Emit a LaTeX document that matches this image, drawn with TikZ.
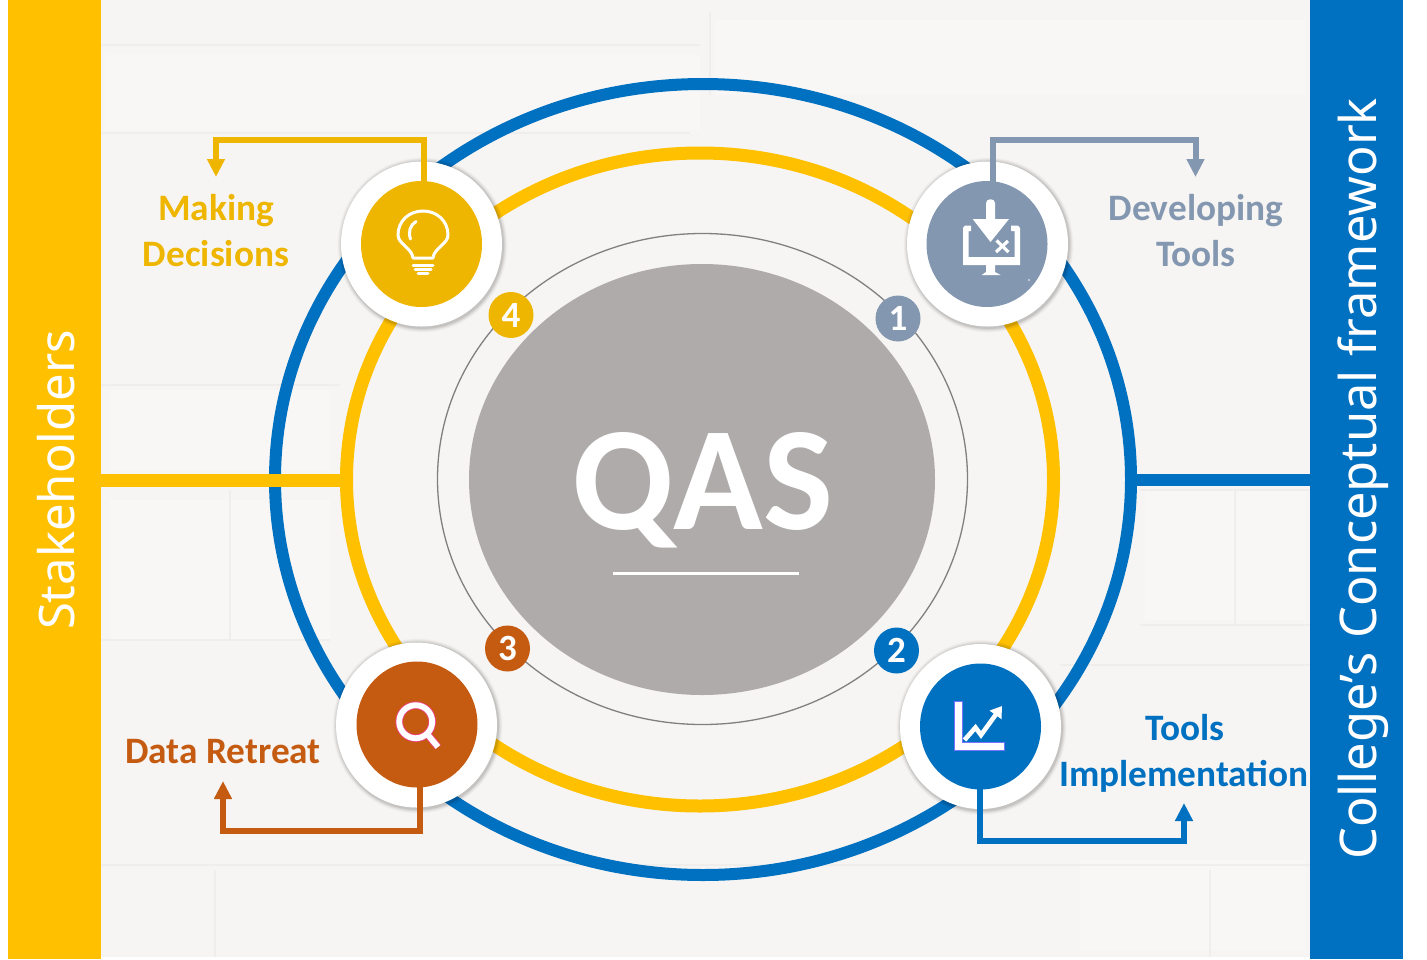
\documentclass[tikz,border=0pt]{standalone}
\usepackage{fontspec}
\setmainfont{Carlito}
\newfontfamily\barfont{Noto Sans}
\usetikzlibrary{arrows.meta,shapes.geometric}
\definecolor{cYel}{HTML}{FFC000}
\definecolor{cBlu}{HTML}{0070C0}
\definecolor{cGold}{HTML}{EEB600}
\definecolor{cSla}{HTML}{8497B0}
\definecolor{cOra}{HTML}{C55A11}
\definecolor{cGry}{HTML}{AFABAB}
\definecolor{cBg}{HTML}{F6F5F3}
\definecolor{cBrick}{HTML}{EFEEEC}
\tikzset{
  halo/.style={ellipse,minimum width=161pt,minimum height=165pt,inner sep=0pt,outer sep=0pt,fill=white},
  disc/.style={ellipse,minimum width=121pt,minimum height=126pt,inner sep=0pt,outer sep=0pt,fill=#1},
  badge/.style={ellipse,minimum width=45pt,minimum height=46pt,inner sep=0pt,outer sep=0pt,fill=#1,text=white,font=\fontsize{37}{37}\selectfont\bfseries},
  lead/.style={draw=#1,line width=6pt,miter limit=10,-{Triangle[width=17pt,length=18pt]}},
  lab/.style={text=#1,font=\fontsize{37.3}{40}\selectfont\bfseries,inner sep=0pt,anchor=center},
  bartext/.style={text=white,rotate=90,inner sep=0pt,anchor=center,font=\barfont\fontsize{#1}{#1}\selectfont},
  brick/.style={draw=cBrick,line width=1.2pt},
  ico/.style={draw=white,line width=3pt,line cap=round,line join=round}
}
\newcommand{\shadowfor}[2]{%
  \foreach \g/\o in {5/0.02,4/0.03,3/0.04,2/0.05,1/0.07}{
    \fill[black,opacity=\o] (#1+1,#2+1) ellipse ({80.5+\g*0.9} and {83+\g*0.9});
  }}
\begin{document}
\begin{tikzpicture}[x=1pt,y=-1pt]
\useasboundingbox (0,0) rectangle (1427,959);
\fill[white] (0,0) rectangle (1427,959);
% wall
\fill[cBg] (101,0) rectangle (1310,957);
\fill[white,opacity=.25] (105,55) rectangle (700,130);
\fill[white,opacity=.25] (715,20) rectangle (1305,95);
\fill[white,opacity=.25] (110,390) rectangle (330,470);
\fill[white,opacity=.25] (110,500) rectangle (330,640);
\fill[white,opacity=.25] (1145,490) rectangle (1305,620);
\fill[white,opacity=.25] (1080,860) rectangle (1305,950);
\foreach \a/\b/\c/\d in {101/45/700/45,710/12/710/95,101/133/690/133,101/385/340/385,
   101/640/330/640,1140/490/1310/490,1140/625/1310/625,1060/665/1310/665,101/865/1310/865,
   215/870/215/957,1210/870/1210/957,230/490/230/640,1235/625/1235/490}
  \draw[brick] (\a,\b) -- (\c,\d);
% side bars
\fill[cYel] (8,0) rectangle (101,959);
\fill[cBlu] (1310,0) rectangle (1403,959);
\node[bartext=49] (stake) at (56,480) {Stakeholders};
\node[bartext=50.6] (coll) at (1363,479) {College’s Conceptual framework};
% rings
\draw[cBlu,line width=12pt] (703,479.5) ellipse (428 and 395.5);
\draw[cYel,line width=13pt] (700,479.5) ellipse (353.5 and 326.5);
\coordinate (yl) at (342,480); \coordinate (yr) at (101,480);
\coordinate (bl) at (1130,480); \coordinate (br) at (1310,480);
\draw[cYel,line width=13pt] (yr) -- (yl);
\draw[cBlu,line width=12pt] (bl) -- (br);
\draw[gray,line width=1.3pt] (702.5,479) ellipse (265 and 245.5);
% centre
\node[ellipse,minimum width=466pt,minimum height=431pt,inner sep=0pt,outer sep=0pt,fill=cGry] (core) at (702,479.5) {};
\node[text=white,inner sep=0pt,font=\fontsize{148}{148}\selectfont\bfseries] (qas) at (703,490) {QAS};
\coordinate (ul) at (612.7,573.3); \coordinate (ur) at (799.3,573.3);
\draw[white,line width=3pt] (ul) -- (ur);
% stations
\shadowfor{421.5}{244}\shadowfor{987.5}{244}\shadowfor{980.5}{726.5}\shadowfor{416.5}{725}
\node[halo] (h4) at (421.5,244) {};
\node[halo] (h1) at (987.5,244) {};
\node[halo] (h2) at (980.5,726.5) {};
\node[halo] (h3) at (416.5,725) {};
\node[disc=cGold] (d4) at (421.5,244) {};
\node[disc=cSla] (d1) at (987,244) {};
\node[disc=cBlu] (d2) at (980.5,726.5) {};
\node[disc=cOra] (d3) at (417,724.5) {};
% badges
\node[badge=cSla] (b1) at (898,318.5) {1};
\node[badge=cBlu] (b2) at (896.5,650.5) {2};
\node[badge=cOra] (b3) at (507.5,648.5) {3};
\node[badge=cGold] (b4) at (511,315) {4};
% leaders
\coordinate (s4) at (424,182); \coordinate (e4) at (216,177);
\coordinate (s1) at (993,182); \coordinate (e1) at (1195.5,177);
\coordinate (s2) at (980,788); \coordinate (e2) at (1184,803);
\coordinate (s3) at (420,786); \coordinate (e3) at (223,781);
\draw[lead=cGold] (s4) |- (216,139.5) -- (e4);
\draw[lead=cSla] (s1) |- (1195.5,139.5) -- (e1);
\draw[lead=cBlu] (s2) |- (1184,840.5) -- (e2);
\draw[lead=cOra] (s3) |- (223,830.5) -- (e3);
% labels
\node[lab=cGold] (t4a) at (216,211) {Making};
\node[lab=cGold] (t4b) at (216,254) {Decisions};
\node[lab=cSla] (t1a) at (1196,211) {Developing};
\node[lab=cSla] (t1b) at (1196,254) {Tools};
\node[lab=cBlu] (t2a) at (1185,728) {Tools};
\node[lab=cBlu] (t2b) at (1184,776) {Implementation};
\node[lab=cOra] (t3) at (223,752) {Data Retreat};
% bulb icon
\draw[ico] (413,258) .. controls (412,248) and (398,244) .. (398,235) .. controls (398,221) and (409,211) .. (423,211) .. controls (437,211) and (448,221) .. (448,235) .. controls (448,244) and (434,248) .. (433,258) -- cycle;
\draw[ico] (410.5,239) .. controls (408,232) and (410,225) .. (416,221.5);
\draw[ico] (413,265) -- (433,265);
\draw[ico] (415,269.5) -- (431,269.5);
\draw[ico] (418,273.5) -- (428,273.5);
% download icon
\fill[white] (986,203) .. controls (986,198) and (995,198) .. (995,203) -- (995,219) -- (1009,219) -- (990.5,242) -- (972.7,219) -- (986,219) -- cycle;
\fill[white] (963,228) -- (965,225.5) -- (971,225.5) -- (971,231) -- (968.5,231) -- (968.5,257) -- (1014.5,257) -- (1014.5,231) -- (1011,231) -- (1011,225.5) -- (1018,225.5) -- (1020,228) -- (1020,265) -- (995,265) -- (995,272) -- (1000.5,275) -- (981.7,275) -- (986,272) -- (986,265) -- (963,265) -- cycle;
\draw[white,line width=3.2pt] (996.5,240.5) -- (1008.5,252);
\draw[white,line width=3.2pt] (1008,241) -- (996,252);
\fill[white] (1029,280) circle (.8);
% chart icon
\draw[draw=blue!55!white,line width=.8pt,fill=white] (954,701) -- (962,701) -- (962,742.7) -- (1004,742.7) -- (1004,750.7) -- (954,750.7) -- cycle;
\draw[white,line width=4.6pt,line join=miter,-{Triangle[width=14pt,length=11pt]}] (964.5,740) -- (975.5,727.5) -- (981,735) -- (1002,706);
% magnifier
\draw[magenta!70!red!75!white,line width=7.5pt] (415.7,721.7) circle (16.5);
\coordinate (m1) at (426.7,733.5); \coordinate (m2) at (438,747);
\draw[magenta!70!red!75!white,line width=7.5pt] (m1) -- (m2);
\draw[white,line width=5.8pt] (415.7,721.7) circle (16.5);
\draw[white,line width=5.8pt] (m1) -- (m2);
\end{tikzpicture}
\end{document}
